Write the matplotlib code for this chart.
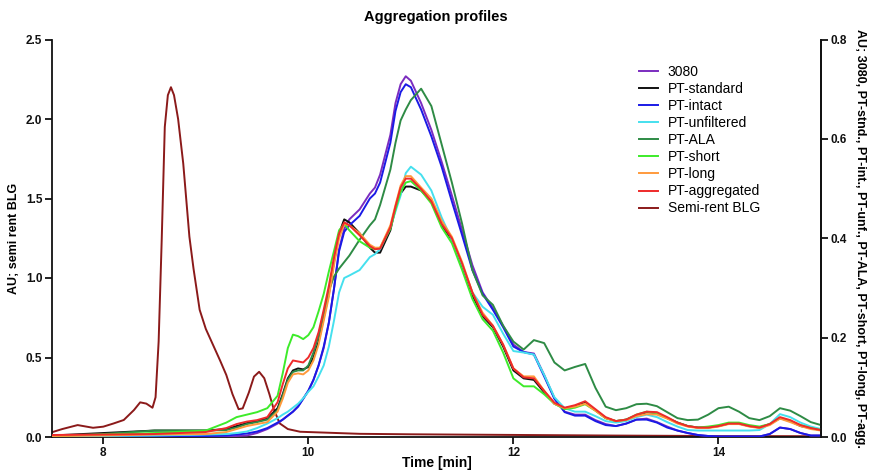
import matplotlib
matplotlib.use("Agg")
import matplotlib.pyplot as plt

plt.rcParams['font.family'] = ['Liberation Sans', 'DejaVu Sans']

# ---------------- data ----------------
time = [7.5, 8.0, 8.5, 9.0, 9.2, 9.3, 9.4, 9.5, 9.6, 9.7,
        9.75, 9.8, 9.85, 9.9, 9.95, 10.0, 10.05, 10.1, 10.15, 10.2, 10.25, 10.3, 10.35, 10.4,
        10.5, 10.6, 10.65, 10.7,
        10.8, 10.85, 10.9, 10.95, 11.0,
        11.1, 11.2, 11.3, 11.4, 11.5, 11.6, 11.7, 11.8, 11.9, 12.0,
        12.1, 12.2, 12.3, 12.4, 12.5, 12.6, 12.7, 12.8, 12.9, 13.0,
        13.1, 13.2, 13.3, 13.4, 13.5, 13.6, 13.7, 13.8, 13.9, 14.0,
        14.1, 14.2, 14.3, 14.4, 14.5, 14.6, 14.7, 14.8, 14.9, 15.0]

s3080 = [0.0, 0.0, 0.0, 0.0, 0.001, 0.002, 0.003, 0.008, 0.016, 0.027,
         0.035, 0.043, 0.051, 0.062, 0.077, 0.093, 0.115, 0.144, 0.179, 0.230, 0.298, 0.378, 0.419, 0.438,
         0.458, 0.490, 0.502, 0.528,
         0.608, 0.672, 0.710, 0.726, 0.717,
         0.672, 0.618, 0.554, 0.486, 0.416, 0.346, 0.291, 0.259, 0.224, 0.186,
         0.171, 0.168, 0.125, 0.078, 0.051, 0.045, 0.045, 0.034, 0.026, 0.022,
         0.027, 0.035, 0.037, 0.030, 0.021, 0.013, 0.008, 0.004, 0.002, 0.001,
         0.001, 0.001, 0.001, 0.001, 0.006, 0.019, 0.016, 0.008, 0.003, 0.003]

pt_standard = [0.003, 0.008, 0.013, 0.013, 0.016, 0.022, 0.028, 0.032, 0.037, 0.058,
               0.086, 0.118, 0.134, 0.138, 0.136, 0.141, 0.160, 0.192, 0.240, 0.288, 0.352, 0.410, 0.438, 0.432,
               0.410, 0.381, 0.371, 0.371,
               0.416, 0.461, 0.490, 0.504, 0.504,
               0.496, 0.474, 0.426, 0.397, 0.342, 0.285, 0.243, 0.221, 0.182, 0.134,
               0.118, 0.115, 0.090, 0.067, 0.058, 0.062, 0.069, 0.054, 0.038, 0.032,
               0.035, 0.043, 0.050, 0.048, 0.038, 0.029, 0.022, 0.019, 0.019, 0.022,
               0.027, 0.027, 0.022, 0.019, 0.026, 0.038, 0.032, 0.022, 0.018, 0.014]

pt_intact = [0.0, 0.0, 0.0, 0.002, 0.003, 0.005, 0.007, 0.011, 0.018, 0.029,
             0.035, 0.043, 0.051, 0.061, 0.077, 0.093, 0.115, 0.144, 0.182, 0.230, 0.298, 0.374, 0.413, 0.426,
             0.445, 0.480, 0.490, 0.512,
             0.592, 0.656, 0.694, 0.710, 0.704,
             0.659, 0.605, 0.544, 0.474, 0.406, 0.336, 0.288, 0.256, 0.221, 0.182,
             0.171, 0.166, 0.122, 0.077, 0.050, 0.043, 0.043, 0.032, 0.024, 0.022,
             0.027, 0.035, 0.035, 0.029, 0.019, 0.013, 0.008, 0.004, 0.002, 0.001,
             0.001, 0.001, 0.001, 0.001, 0.006, 0.019, 0.016, 0.008, 0.003, 0.003]

pt_unfiltered = [0.0, 0.002, 0.003, 0.005, 0.006, 0.008, 0.011, 0.018, 0.027, 0.038,
                 0.045, 0.051, 0.059, 0.067, 0.078, 0.091, 0.102, 0.122, 0.144, 0.182, 0.234, 0.291, 0.320, 0.325,
                 0.336, 0.362, 0.368, 0.378,
                 0.422, 0.454, 0.486, 0.531, 0.544,
                 0.528, 0.496, 0.442, 0.397, 0.346, 0.291, 0.262, 0.246, 0.208, 0.173,
                 0.170, 0.166, 0.125, 0.080, 0.058, 0.051, 0.051, 0.042, 0.032, 0.029,
                 0.032, 0.040, 0.045, 0.040, 0.030, 0.021, 0.014, 0.013, 0.013, 0.013,
                 0.013, 0.013, 0.013, 0.014, 0.026, 0.046, 0.040, 0.029, 0.021, 0.016]

pt_ala = [0.002, 0.006, 0.013, 0.013, 0.014, 0.019, 0.026, 0.030, 0.035, 0.054,
          0.083, 0.115, 0.131, 0.134, 0.134, 0.144, 0.170, 0.205, 0.250, 0.294, 0.323, 0.339, 0.352, 0.365,
          0.397, 0.426, 0.438, 0.467,
          0.538, 0.592, 0.637, 0.659, 0.678,
          0.701, 0.666, 0.589, 0.512, 0.429, 0.336, 0.285, 0.266, 0.224, 0.192,
          0.176, 0.195, 0.189, 0.150, 0.134, 0.141, 0.147, 0.099, 0.061, 0.054,
          0.058, 0.066, 0.067, 0.062, 0.050, 0.038, 0.034, 0.035, 0.045, 0.058,
          0.061, 0.051, 0.038, 0.034, 0.042, 0.058, 0.053, 0.042, 0.030, 0.024]

pt_short = [0.002, 0.005, 0.008, 0.013, 0.029, 0.040, 0.045, 0.050, 0.058, 0.083,
            0.128, 0.179, 0.206, 0.203, 0.197, 0.205, 0.221, 0.253, 0.288, 0.333, 0.374, 0.416, 0.429, 0.416,
            0.394, 0.381, 0.378, 0.381,
            0.419, 0.458, 0.493, 0.512, 0.515,
            0.496, 0.470, 0.422, 0.390, 0.336, 0.278, 0.237, 0.214, 0.170, 0.118,
            0.102, 0.102, 0.086, 0.067, 0.056, 0.059, 0.066, 0.053, 0.038, 0.032,
            0.035, 0.045, 0.051, 0.048, 0.038, 0.029, 0.022, 0.019, 0.021, 0.024,
            0.029, 0.029, 0.024, 0.021, 0.026, 0.038, 0.032, 0.024, 0.018, 0.014]

pt_long = [0.002, 0.003, 0.005, 0.006, 0.010, 0.016, 0.022, 0.026, 0.030, 0.051,
           0.077, 0.109, 0.126, 0.128, 0.126, 0.134, 0.154, 0.186, 0.234, 0.282, 0.346, 0.400, 0.429, 0.426,
           0.410, 0.387, 0.381, 0.381,
           0.426, 0.467, 0.506, 0.525, 0.525,
           0.502, 0.480, 0.435, 0.403, 0.352, 0.291, 0.250, 0.224, 0.186, 0.138,
           0.122, 0.122, 0.093, 0.067, 0.058, 0.061, 0.067, 0.053, 0.038, 0.032,
           0.034, 0.042, 0.046, 0.045, 0.037, 0.027, 0.021, 0.018, 0.018, 0.021,
           0.026, 0.026, 0.021, 0.018, 0.024, 0.037, 0.030, 0.022, 0.016, 0.013]

pt_aggregated = [0.004, 0.005, 0.006, 0.010, 0.018, 0.026, 0.031, 0.034, 0.040, 0.070,
                 0.106, 0.138, 0.154, 0.152, 0.150, 0.160, 0.179, 0.211, 0.256, 0.304, 0.362, 0.410, 0.432, 0.426,
                 0.406, 0.384, 0.378, 0.379,
                 0.422, 0.464, 0.502, 0.520, 0.520,
                 0.499, 0.474, 0.429, 0.400, 0.349, 0.291, 0.246, 0.224, 0.186, 0.138,
                 0.120, 0.118, 0.093, 0.069, 0.059, 0.064, 0.072, 0.056, 0.040, 0.032,
                 0.035, 0.045, 0.051, 0.050, 0.040, 0.029, 0.022, 0.019, 0.019, 0.022,
                 0.027, 0.027, 0.022, 0.019, 0.026, 0.040, 0.034, 0.024, 0.018, 0.014]

# Semi-rent BLG (left axis)
time_blg = [7.5, 7.6, 7.75, 7.9, 8.0, 8.1, 8.2, 8.3, 8.36, 8.42,
            8.48, 8.51, 8.54, 8.57, 8.6, 8.63, 8.66, 8.69, 8.73, 8.78,
            8.84, 8.88, 8.94, 9.0, 9.07, 9.14, 9.2, 9.26, 9.32, 9.36,
            9.42, 9.47, 9.52, 9.57, 9.62, 9.66, 9.72, 9.8, 9.92, 10.5,
            11.0, 12.0, 13.0, 14.0, 15.0]
semi_rent_blg = [0.03, 0.05, 0.075, 0.058, 0.065, 0.085, 0.107, 0.17, 0.218, 0.21,
                 0.184, 0.25, 0.6, 1.24, 1.95, 2.15, 2.20, 2.15, 2.0, 1.72,
                 1.26, 1.06, 0.80, 0.68, 0.58, 0.48, 0.39, 0.27, 0.175, 0.18,
                 0.28, 0.38, 0.41, 0.37, 0.27, 0.18, 0.086, 0.05, 0.033, 0.02,
                 0.017, 0.013, 0.009, 0.006, 0.005]

labels = ['3080', 'PT-standard', 'PT-intact', 'PT-unfiltered', 'PT-ALA',
          'PT-short', 'PT-long', 'PT-aggregated', 'Semi-rent BLG']
right_series = [s3080, pt_standard, pt_intact, pt_unfiltered, pt_ala,
                pt_short, pt_long, pt_aggregated]
colors = ['#7B2CBF', '#111111', '#1A1AE6', '#45E0EE', '#2E8B45',
          '#3DEB2A', '#FF9A3C', '#EE2A2A', '#8B1A1A']

left_ticks = [0.0, 0.5, 1.0, 1.5, 2.0, 2.5]
right_ticks = [0.0, 0.2, 0.4, 0.6, 0.8]
x_ticks = [8, 10, 12, 14]

# ---------------- plot ----------------
fig = plt.figure(figsize=(8.72, 4.75), dpi=100)
ax = fig.add_axes([52/872, 1-437/475, (821-52)/872, (437-39.5)/475])
ax2 = ax.twinx()

lw = 1.4
h_blg, = ax.plot(time_blg, semi_rent_blg, color=colors[8], lw=lw,
                 solid_joinstyle='round')
handles = []
for ser, col in zip(right_series, colors[:8]):
    h, = ax2.plot(time, ser, color=col, lw=lw, solid_joinstyle='round')
    handles.append(h)
handles.append(h_blg)

ax.set_xlim(7.5, 15)
ax.set_ylim(0, 2.5)
ax2.set_ylim(0, 0.8)
ax.set_xticks(x_ticks)
ax.set_yticks(left_ticks)
ax2.set_yticks(right_ticks)
ax.set_xticklabels([str(t) for t in x_ticks])
ax.set_yticklabels(['%.1f' % t for t in left_ticks])
ax2.set_yticklabels(['%.1f' % t for t in right_ticks])

for a in (ax, ax2):
    a.spines['top'].set_visible(False)
    for s in a.spines.values():
        s.set_linewidth(1.3)
        s.set_color('#111111')
    a.tick_params(direction='out', length=5, width=1.3, labelsize=8.5, pad=2, colors='#111111')
    for lab in a.get_xticklabels() + a.get_yticklabels():
        lab.set_fontweight('bold')
ax2.spines['left'].set_visible(False)
ax2.spines['bottom'].set_visible(False)

ax.set_xlabel('Time [min]', fontsize=10, fontweight='bold', va='center')
ax.xaxis.set_label_coords(0.5, (437-463)/397.5)
ax.set_ylabel('AU; semi rent BLG', fontsize=9, fontweight='bold', va='center')
ax.yaxis.set_label_coords((14-52)/769, 0.5)
ax2.set_ylabel('AU; 3080, PT-stnd., PT-int., PT-unf., PT-ALA, PT-short, PT-long, PT-agg.',
               fontsize=9, fontweight='bold', rotation=270, va='center', ha='center')
ax2.yaxis.set_label_coords((860-52)/769, 0.5)

fig.text(436/872, 1-17/475, 'Aggregation profiles', ha='center', va='center',
         fontsize=10.5, fontweight='bold')

fig.legend(handles, labels, loc='upper left', bbox_to_anchor=(639/872, 1-65/475),
           frameon=False, fontsize=10, handlelength=1.37, handletextpad=0.7,
           labelspacing=0.22, borderpad=0, borderaxespad=0)

fig.savefig('out.png', dpi=100)
